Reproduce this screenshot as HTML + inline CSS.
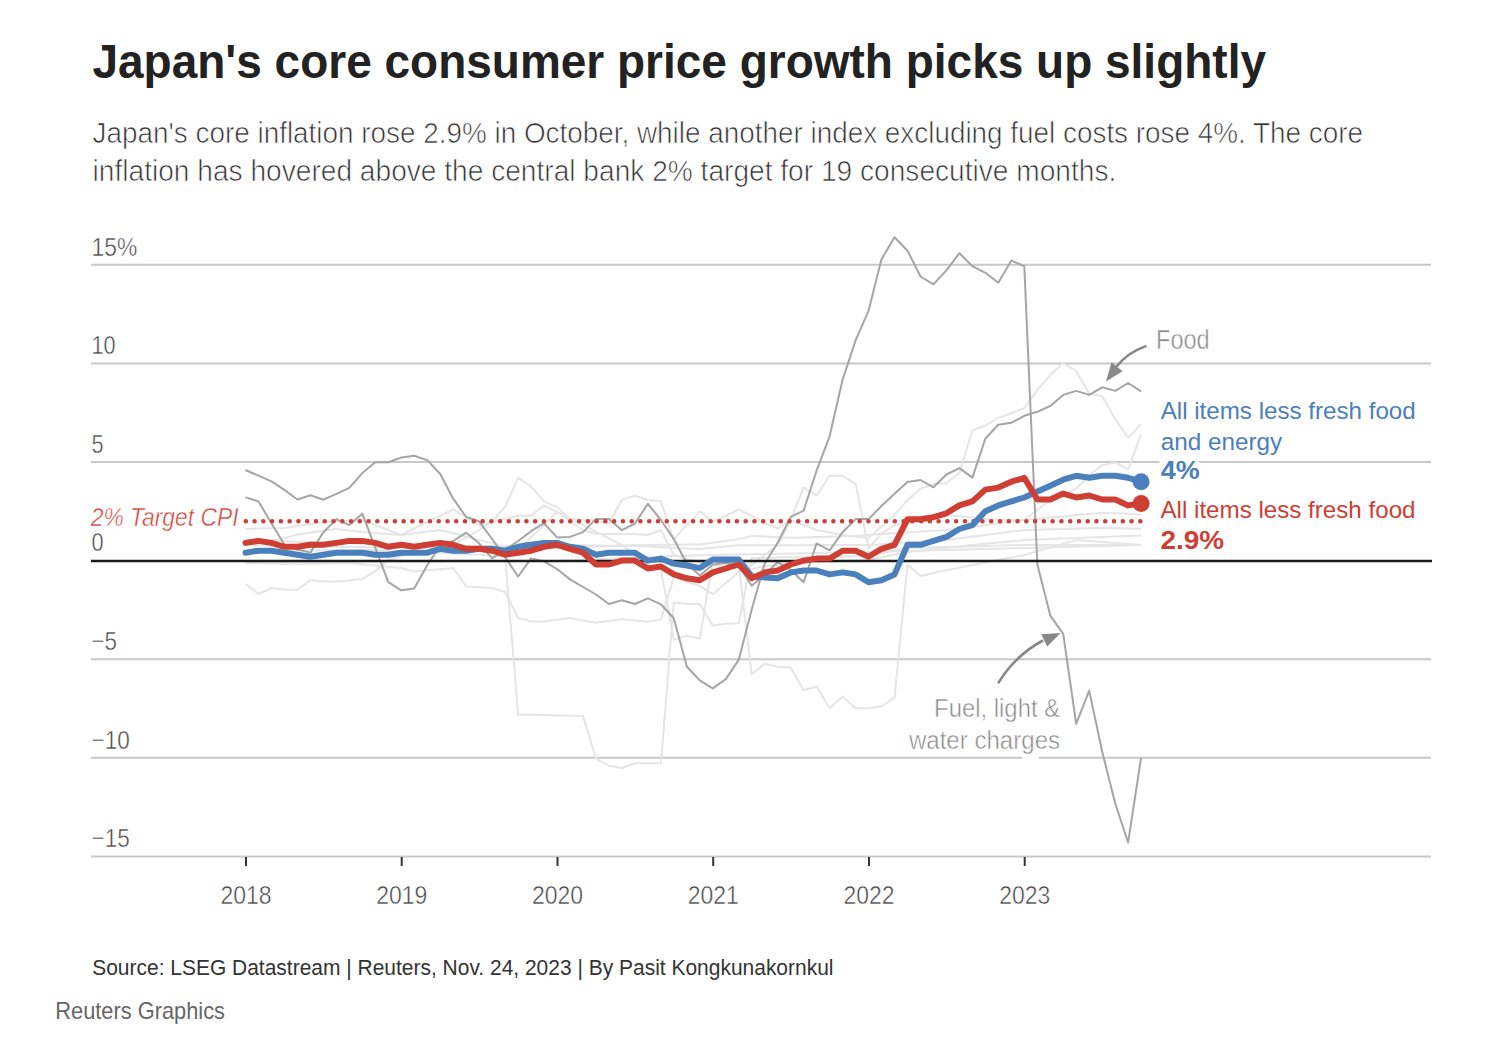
<!DOCTYPE html>
<html><head><meta charset="utf-8"><style>
html,body{margin:0;padding:0;background:#fff;width:1506px;height:1058px;overflow:hidden}
svg{display:block}
text{font-family:"Liberation Sans",sans-serif}
</style></head><body><svg width="1506" height="1058" viewBox="0 0 1506 1058" font-family="Liberation Sans, sans-serif"><text x="92.4" y="77.8" font-size="47.8" fill="#222" font-weight="bold" font-style="normal" text-anchor="start" textLength="1173.6" lengthAdjust="spacingAndGlyphs">Japan's core consumer price growth picks up slightly</text><text x="92.6" y="142.5" font-size="29.8" fill="#333" font-weight="normal" font-style="normal" text-anchor="start" textLength="1270.4" lengthAdjust="spacingAndGlyphs" stroke="#fff" stroke-width="0.7">Japan's core inflation rose 2.9% in October, while another index excluding fuel costs rose 4%. The core</text><text x="92.6" y="181" font-size="29.8" fill="#333" font-weight="normal" font-style="normal" text-anchor="start" textLength="1023.7" lengthAdjust="spacingAndGlyphs" stroke="#fff" stroke-width="0.7">inflation has hovered above the central bank 2% target for 19 consecutive months.</text><line x1="91" x2="1431" y1="264.8" y2="264.8" stroke="#c8c8c8" stroke-width="2"/><line x1="91" x2="1431" y1="363.4" y2="363.4" stroke="#c8c8c8" stroke-width="2"/><line x1="91" x2="1159.5" y1="462.0" y2="462.0" stroke="#c8c8c8" stroke-width="2"/><line x1="1198.8" x2="1431" y1="462.0" y2="462.0" stroke="#c8c8c8" stroke-width="2"/><line x1="91" x2="1431" y1="659.2" y2="659.2" stroke="#c8c8c8" stroke-width="2"/><line x1="91" x2="1022" y1="757.8" y2="757.8" stroke="#c8c8c8" stroke-width="2"/><line x1="1039" x2="1431" y1="757.8" y2="757.8" stroke="#c8c8c8" stroke-width="2"/><line x1="91" x2="1431" y1="856.4" y2="856.4" stroke="#c8c8c8" stroke-width="2"/><path d="M245.5,583.8 L258.5,594.0 L271.5,588.0 L284.4,589.4 L297.4,589.8 L310.4,580.1 L323.4,581.5 L336.4,581.5 L349.3,580.5 L362.3,579.1 L375.3,571.0 L388.3,560.0 L401.3,556.0 L414.2,554.0 L427.2,552.0 L440.2,548.5 L453.2,545.0 L466.2,537.5 L479.1,530.0 L492.1,521.0 L505.1,507.0 L518.1,477.8 L531.1,486.3 L544.0,501.4 L557.0,507.0 L570.0,519.0 L583.0,520.0 L596.0,520.6 L608.9,523.7 L621.9,499.8 L634.9,495.9 L647.9,500.0 L660.9,501.4 L673.8,539.7 L686.8,525.0 L699.8,511.6 L712.8,521.8 L725.8,516.0 L738.7,509.4 L751.7,516.0 L764.7,523.0 L777.7,528.4 L790.7,520.0 L803.6,525.0 L816.6,530.0 L829.6,532.5 L842.6,535.0 L855.6,536.5 L868.5,538.0 L881.5,526.5 L894.5,515.0 L907.5,500.0 L920.5,488.8 L933.4,484.1 L946.4,483.2 L959.4,472.8 L972.4,430.2 L985.4,425.5 L998.3,418.0 L1011.3,413.2 L1024.3,408.1 L1037.3,390.2 L1050.3,375.0 L1063.2,363.0 L1076.2,371.0 L1089.2,393.6 L1102.2,396.2 L1115.2,419.1 L1128.1,437.8 L1141.1,424.2" fill="none" stroke="#e5e5e5" stroke-width="2" stroke-linejoin="round"/><path d="M245.5,551.0 L258.5,550.9 L271.5,550.8 L284.4,550.7 L297.4,550.6 L310.4,550.5 L323.4,550.4 L336.4,550.3 L349.3,550.2 L362.3,550.1 L375.3,550.0 L388.3,550.6 L401.3,551.2 L414.2,551.8 L427.2,552.4 L440.2,553.0 L453.2,553.6 L466.2,554.2 L479.1,554.8 L492.1,555.4 L505.1,556.0 L518.1,714.4 L531.1,714.7 L544.0,715.0 L557.0,715.4 L570.0,715.7 L583.0,716.0 L596.0,758.6 L608.9,765.7 L621.9,768.0 L634.9,763.3 L647.9,763.3 L660.9,763.3 L673.8,602.5 L686.8,604.0 L699.8,604.0 L712.8,625.6 L725.8,623.7 L738.7,623.3 L751.7,558.0 L764.7,557.8 L777.7,557.6 L790.7,557.3 L803.6,557.1 L816.6,556.9 L829.6,556.7 L842.6,556.4 L855.6,556.2 L868.5,556.0 L881.5,553.3 L894.5,550.7 L907.5,548.0 L920.5,547.7 L933.4,547.3 L946.4,547.0 L959.4,546.7 L972.4,546.3 L985.4,546.0 L998.3,545.7 L1011.3,545.3 L1024.3,545.0 L1037.3,545.0 L1050.3,545.0 L1063.2,545.0 L1076.2,545.0 L1089.2,545.0 L1102.2,545.0 L1115.2,545.0 L1128.1,545.0 L1141.1,545.0" fill="none" stroke="#e5e5e5" stroke-width="2" stroke-linejoin="round"/><path d="M245.5,562.9 L258.5,563.2 L271.5,563.5 L284.4,563.7 L297.4,564.0 L310.4,563.8 L323.4,563.5 L336.4,563.2 L349.3,563.0 L362.3,564.2 L375.3,565.5 L388.3,566.8 L401.3,568.0 L414.2,571.5 L427.2,570.3 L440.2,569.2 L453.2,568.0 L466.2,586.4 L479.1,587.2 L492.1,588.0 L505.1,592.0 L518.1,618.0 L531.1,621.5 L544.0,621.5 L557.0,619.8 L570.0,618.0 L583.0,620.4 L596.0,622.7 L608.9,621.0 L621.9,619.2 L634.9,620.5 L647.9,621.8 L660.9,619.5 L673.8,577.0 L686.8,582.0 L699.8,586.0 L712.8,594.2 L725.8,583.0 L738.7,572.3 L751.7,569.1 L764.7,566.0 L777.7,565.0 L790.7,564.0 L803.6,563.0 L816.6,562.0 L829.6,561.5 L842.6,561.0 L855.6,560.5 L868.5,560.0 L881.5,557.3 L894.5,554.7 L907.5,552.0 L920.5,550.6 L933.4,549.2 L946.4,547.8 L959.4,546.4 L972.4,545.0 L985.4,543.8 L998.3,542.5 L1011.3,541.2 L1024.3,540.0 L1037.3,539.5 L1050.3,539.0 L1063.2,538.5 L1076.2,538.0 L1089.2,537.6 L1102.2,537.1 L1115.2,536.6 L1128.1,536.1 L1141.1,535.6" fill="none" stroke="#e5e5e5" stroke-width="2" stroke-linejoin="round"/><path d="M245.5,528.9 L258.5,528.6 L271.5,528.3 L284.4,528.0 L297.4,526.0 L310.4,524.0 L323.4,522.0 L336.4,521.3 L349.3,520.7 L362.3,520.0 L375.3,525.0 L388.3,530.0 L401.3,535.0 L414.2,533.3 L427.2,531.7 L440.2,530.0 L453.2,533.3 L466.2,536.7 L479.1,540.0 L492.1,543.3 L505.1,546.7 L518.1,550.0 L531.1,537.3 L544.0,524.7 L557.0,512.0 L570.0,521.0 L583.0,530.0 L596.0,534.0 L608.9,534.0 L621.9,534.0 L634.9,534.0 L647.9,535.0 L660.9,530.0 L673.8,555.0 L686.8,558.7 L699.8,562.3 L712.8,566.0 L725.8,565.3 L738.7,564.6 L751.7,674.2 L764.7,663.8 L777.7,666.7 L790.7,667.6 L803.6,690.3 L816.6,686.5 L829.6,708.2 L842.6,696.5 L855.6,708.2 L868.5,708.2 L881.5,706.3 L894.5,697.8 L907.5,564.6 L920.5,575.9 L933.4,573.0 L946.4,570.3 L959.4,567.7 L972.4,565.0 L985.4,562.5 L998.3,560.0 L1011.3,557.5 L1024.3,555.0 L1037.3,551.2 L1050.3,547.5 L1063.2,543.8 L1076.2,540.0 L1089.2,541.0 L1102.2,542.0 L1115.2,543.0 L1128.1,544.0 L1141.1,545.0" fill="none" stroke="#e5e5e5" stroke-width="2" stroke-linejoin="round"/><path d="M245.5,545.0 L258.5,542.7 L271.5,540.5 L284.4,538.2 L297.4,534.5 L310.4,532.7 L323.4,530.8 L336.4,529.0 L349.3,530.5 L362.3,532.0 L375.3,533.0 L388.3,534.0 L401.3,535.0 L414.2,528.6 L427.2,522.2 L440.2,515.9 L453.2,509.5 L466.2,517.2 L479.1,525.0 L492.1,521.9 L505.1,518.9 L518.1,515.8 L531.1,515.8 L544.0,505.4 L557.0,511.9 L570.0,518.5 L583.0,525.0 L596.0,531.7 L608.9,538.3 L621.9,545.0 L634.9,555.0 L647.9,565.0 L660.9,570.0 L673.8,639.6 L686.8,635.8 L699.8,638.8 L712.8,560.0 L725.8,561.7 L738.7,563.3 L751.7,565.0 L764.7,555.0 L777.7,545.0 L790.7,520.0 L803.6,487.5 L816.6,495.5 L829.6,475.8 L842.6,475.8 L855.6,483.8 L868.5,548.1 L881.5,533.5 L894.5,525.0 L907.5,522.5 L920.5,520.0 L933.4,517.5 L946.4,515.0 L959.4,516.2 L972.4,517.5 L985.4,518.8 L998.3,520.0 L1011.3,520.0 L1024.3,520.0 L1037.3,510.0 L1050.3,500.0 L1063.2,494.4 L1076.2,488.9 L1089.2,475.3 L1102.2,465.0 L1115.2,462.5 L1128.1,469.3 L1141.1,434.4" fill="none" stroke="#e5e5e5" stroke-width="2" stroke-linejoin="round"/><path d="M245.5,545.0 L258.5,545.2 L271.5,545.5 L284.4,545.8 L297.4,546.0 L310.4,546.2 L323.4,546.5 L336.4,546.8 L349.3,547.0 L362.3,547.2 L375.3,547.5 L388.3,547.8 L401.3,548.0 L414.2,547.8 L427.2,547.5 L440.2,547.2 L453.2,547.0 L466.2,546.8 L479.1,546.5 L492.1,546.2 L505.1,546.0 L518.1,545.8 L531.1,545.5 L544.0,545.2 L557.0,545.0 L570.0,545.2 L583.0,545.3 L596.0,545.5 L608.9,545.7 L621.9,545.8 L634.9,546.0 L647.9,546.6 L660.9,547.2 L673.8,547.8 L686.8,548.4 L699.8,549.0 L712.8,547.7 L725.8,546.5 L738.7,545.2 L751.7,545.2 L764.7,545.2 L777.7,545.2 L790.7,545.2 L803.6,545.2 L816.6,545.1 L829.6,545.1 L842.6,545.1 L855.6,545.0 L868.5,545.0 L881.5,544.2 L894.5,543.3 L907.5,542.5 L920.5,541.7 L933.4,540.8 L946.4,540.0 L959.4,538.3 L972.4,536.7 L985.4,535.0 L998.3,533.3 L1011.3,531.7 L1024.3,530.0 L1037.3,529.7 L1050.3,529.3 L1063.2,529.0 L1076.2,528.7 L1089.2,528.3 L1102.2,528.0 L1115.2,528.3 L1128.1,528.5 L1141.1,528.8" fill="none" stroke="#e5e5e5" stroke-width="2" stroke-linejoin="round"/><path d="M245.5,540.0 L258.5,540.4 L271.5,540.8 L284.4,541.2 L297.4,541.7 L310.4,542.1 L323.4,542.5 L336.4,542.9 L349.3,543.3 L362.3,543.8 L375.3,544.2 L388.3,544.6 L401.3,545.0 L414.2,545.2 L427.2,545.5 L440.2,545.8 L453.2,546.0 L466.2,546.2 L479.1,546.5 L492.1,546.8 L505.1,547.0 L518.1,547.2 L531.1,547.5 L544.0,547.8 L557.0,548.0 L570.0,547.5 L583.0,547.0 L596.0,546.5 L608.9,546.0 L621.9,545.5 L634.9,545.0 L647.9,544.9 L660.9,544.8 L673.8,544.7 L686.8,544.6 L699.8,544.5 L712.8,542.7 L725.8,541.0 L738.7,539.2 L751.7,535.9 L764.7,536.5 L777.7,537.2 L790.7,537.8 L803.6,537.4 L816.6,537.0 L829.6,536.7 L842.6,536.3 L855.6,535.9 L868.5,535.0 L881.5,534.1 L894.5,533.2 L907.5,532.4 L920.5,531.6 L933.4,530.8 L946.4,530.0 L959.4,528.3 L972.4,526.7 L985.4,525.0 L998.3,523.3 L1011.3,521.7 L1024.3,520.0 L1037.3,518.8 L1050.3,517.6 L1063.2,516.4 L1076.2,515.1 L1089.2,513.9 L1102.2,512.7 L1115.2,513.3 L1128.1,513.8 L1141.1,514.4" fill="none" stroke="#e5e5e5" stroke-width="2" stroke-linejoin="round"/><path d="M245.5,562.0 L258.5,562.0 L271.5,561.9 L284.4,561.9 L297.4,561.8 L310.4,561.8 L323.4,561.8 L336.4,561.7 L349.3,561.7 L362.3,561.6 L375.3,561.6 L388.3,561.5 L401.3,561.5 L414.2,561.5 L427.2,561.4 L440.2,561.4 L453.2,561.3 L466.2,561.3 L479.1,561.2 L492.1,561.2 L505.1,561.2 L518.1,561.1 L531.1,561.1 L544.0,561.0 L557.0,561.0 L570.0,560.4 L583.0,559.9 L596.0,559.3 L608.9,558.8 L621.9,558.2 L634.9,557.7 L647.9,557.1 L660.9,556.6 L673.8,556.0 L686.8,555.7 L699.8,555.3 L712.8,555.0 L725.8,554.8 L738.7,554.5 L751.7,554.2 L764.7,554.0 L777.7,553.8 L790.7,553.5 L803.6,553.2 L816.6,553.0 L829.6,552.8 L842.6,552.5 L855.6,552.2 L868.5,552.0 L881.5,551.7 L894.5,551.3 L907.5,551.0 L920.5,550.7 L933.4,550.3 L946.4,550.0 L959.4,549.7 L972.4,549.3 L985.4,549.0 L998.3,548.7 L1011.3,548.3 L1024.3,548.0 L1037.3,547.7 L1050.3,547.3 L1063.2,547.0 L1076.2,546.7 L1089.2,546.3 L1102.2,546.0 L1115.2,545.7 L1128.1,545.3 L1141.1,545.0" fill="none" stroke="#e5e5e5" stroke-width="2" stroke-linejoin="round"/><path d="M245.5,470.0 L258.5,475.7 L271.5,481.4 L284.4,489.9 L297.4,499.5 L310.4,495.2 L323.4,499.7 L336.4,493.8 L349.3,487.8 L362.3,473.1 L375.3,462.3 L388.3,462.3 L401.3,457.5 L414.2,455.8 L427.2,460.1 L440.2,474.0 L453.2,498.7 L466.2,517.0 L479.1,521.3 L492.1,539.0 L505.1,557.0 L518.1,576.5 L531.1,558.4 L544.0,561.4 L557.0,569.0 L570.0,579.4 L583.0,587.0 L596.0,594.5 L608.9,604.0 L621.9,600.2 L634.9,604.0 L647.9,598.4 L660.9,604.3 L673.8,618.2 L686.8,666.5 L699.8,680.4 L712.8,688.4 L725.8,679.1 L738.7,659.9 L751.7,609.4 L764.7,563.6 L777.7,542.8 L790.7,516.9 L803.6,510.6 L816.6,470.7 L829.6,436.3 L842.6,379.7 L855.6,340.4 L868.5,310.9 L881.5,259.3 L894.5,237.2 L907.5,250.7 L920.5,276.5 L933.4,284.4 L946.4,270.4 L959.4,253.2 L972.4,266.2 L985.4,272.8 L998.3,282.7 L1011.3,260.6 L1024.3,266.2 L1037.3,564.2 L1050.3,615.6 L1063.2,633.8 L1076.2,723.9 L1089.2,690.6 L1102.2,751.7 L1115.2,803.2 L1128.1,842.5 L1141.1,757.8" fill="none" stroke="#a5a5a5" stroke-width="2" stroke-linejoin="round"/><path d="M245.5,497.4 L258.5,501.4 L271.5,523.4 L284.4,544.6 L297.4,549.5 L310.4,552.6 L323.4,532.3 L336.4,519.1 L349.3,525.1 L362.3,513.7 L375.3,547.8 L388.3,582.2 L401.3,590.3 L414.2,588.4 L427.2,565.2 L440.2,546.0 L453.2,541.0 L466.2,532.7 L479.1,543.3 L492.1,558.4 L505.1,550.0 L518.1,541.0 L531.1,531.2 L544.0,523.2 L557.0,537.4 L570.0,536.9 L583.0,532.1 L596.0,518.9 L608.9,518.9 L621.9,530.2 L634.9,523.6 L647.9,503.8 L660.9,520.0 L673.8,539.0 L686.8,563.5 L699.8,575.5 L712.8,564.6 L725.8,563.0 L738.7,565.5 L751.7,585.8 L764.7,575.0 L777.7,562.0 L790.7,570.0 L803.6,582.2 L816.6,543.4 L829.6,550.3 L842.6,532.2 L855.6,519.1 L868.5,519.1 L881.5,506.0 L894.5,493.8 L907.5,482.0 L920.5,480.0 L933.4,487.3 L946.4,474.5 L959.4,468.1 L972.4,477.6 L985.4,438.5 L998.3,424.7 L1011.3,422.8 L1024.3,415.8 L1037.3,411.8 L1050.3,406.0 L1063.2,394.9 L1076.2,390.9 L1089.2,394.9 L1102.2,387.3 L1115.2,390.9 L1128.1,383.0 L1141.1,391.3" fill="none" stroke="#a5a5a5" stroke-width="2" stroke-linejoin="round"/><line x1="91" x2="1432" y1="561" y2="561" stroke="#1a1a1a" stroke-width="2.4"/><line x1="245.8" x2="1141" y1="521.3" y2="521.3" stroke="#d03d33" stroke-width="4.6" stroke-dasharray="0 8.77" stroke-linecap="round"/><path d="M245.5,552.7 L258.5,550.7 L271.5,550.7 L284.4,552.7 L297.4,554.7 L310.4,556.7 L323.4,554.7 L336.4,552.7 L349.3,552.7 L362.3,552.7 L375.3,554.7 L388.3,554.7 L401.3,552.7 L414.2,552.7 L427.2,552.7 L440.2,548.8 L453.2,550.7 L466.2,550.7 L479.1,548.8 L492.1,548.8 L505.1,550.7 L518.1,546.8 L531.1,544.8 L544.0,542.9 L557.0,542.9 L570.0,546.8 L583.0,548.8 L596.0,554.7 L608.9,552.7 L621.9,552.7 L634.9,552.7 L647.9,560.6 L660.9,558.6 L673.8,563.6 L686.8,565.5 L699.8,568.1 L712.8,559.6 L725.8,559.6 L738.7,559.6 L751.7,576.4 L764.7,577.4 L777.7,578.3 L790.7,572.4 L803.6,570.5 L816.6,570.5 L829.6,574.4 L842.6,572.4 L855.6,574.4 L868.5,582.3 L881.5,580.3 L894.5,574.4 L907.5,544.8 L920.5,544.8 L933.4,540.9 L946.4,536.9 L959.4,529.0 L972.4,525.1 L985.4,511.3 L998.3,505.4 L1011.3,501.4 L1024.3,497.5 L1037.3,491.6 L1050.3,485.7 L1063.2,479.7 L1076.2,475.8 L1089.2,477.8 L1102.2,475.8 L1115.2,475.8 L1128.1,477.8 L1141.1,481.7" fill="none" stroke="#4a80bb" stroke-width="6" stroke-linejoin="round" stroke-linecap="round"/><path d="M245.5,542.9 L258.5,540.9 L271.5,542.9 L284.4,546.8 L297.4,546.8 L310.4,544.8 L323.4,544.8 L336.4,542.9 L349.3,540.9 L362.3,540.9 L375.3,542.9 L388.3,546.8 L401.3,544.8 L414.2,546.8 L427.2,544.8 L440.2,542.9 L453.2,544.8 L466.2,548.8 L479.1,548.8 L492.1,550.7 L505.1,554.7 L518.1,552.7 L531.1,550.7 L544.0,546.8 L557.0,544.8 L570.0,548.8 L583.0,552.7 L596.0,564.5 L608.9,564.5 L621.9,560.6 L634.9,560.6 L647.9,568.5 L660.9,566.5 L673.8,574.4 L686.8,578.3 L699.8,580.3 L712.8,572.4 L725.8,568.5 L738.7,564.5 L751.7,578.3 L764.7,572.4 L777.7,570.5 L790.7,564.5 L803.6,560.6 L816.6,558.6 L829.6,558.6 L842.6,550.7 L855.6,550.7 L868.5,556.7 L881.5,548.8 L894.5,544.8 L907.5,519.2 L920.5,519.2 L933.4,517.2 L946.4,513.3 L959.4,505.4 L972.4,501.4 L985.4,489.6 L998.3,487.6 L1011.3,481.7 L1024.3,477.8 L1037.3,499.5 L1050.3,499.5 L1063.2,493.6 L1076.2,497.5 L1089.2,495.5 L1102.2,499.5 L1115.2,499.5 L1128.1,505.4 L1141.1,503.4" fill="none" stroke="#cf3e33" stroke-width="6" stroke-linejoin="round" stroke-linecap="round"/><circle cx="1141.1" cy="481.7" r="8.5" fill="#4a80bb"/><circle cx="1141.1" cy="503.4" r="8.5" fill="#cf3e33"/><text x="91.5" y="255.5" font-size="26.2" fill="#444" font-weight="normal" font-style="normal" text-anchor="start" textLength="45.7" lengthAdjust="spacingAndGlyphs" stroke="#fff" stroke-width="0.5">15%</text><text x="91.5" y="354.1" font-size="26.2" fill="#444" font-weight="normal" font-style="normal" text-anchor="start" textLength="24.1" lengthAdjust="spacingAndGlyphs" stroke="#fff" stroke-width="0.5">10</text><text x="91.5" y="452.7" font-size="26.2" fill="#444" font-weight="normal" font-style="normal" text-anchor="start" textLength="12.1" lengthAdjust="spacingAndGlyphs" stroke="#fff" stroke-width="0.5">5</text><text x="91.5" y="551.3" font-size="26.2" fill="#444" font-weight="normal" font-style="normal" text-anchor="start" textLength="12.1" lengthAdjust="spacingAndGlyphs" stroke="#fff" stroke-width="0.5">0</text><text x="91.5" y="649.9" font-size="26.2" fill="#444" font-weight="normal" font-style="normal" text-anchor="start" textLength="25.6" lengthAdjust="spacingAndGlyphs" stroke="#fff" stroke-width="0.5">−5</text><text x="91.5" y="748.5" font-size="26.2" fill="#444" font-weight="normal" font-style="normal" text-anchor="start" textLength="38.3" lengthAdjust="spacingAndGlyphs" stroke="#fff" stroke-width="0.5">−10</text><text x="91.5" y="847.1" font-size="26.2" fill="#444" font-weight="normal" font-style="normal" text-anchor="start" textLength="38.3" lengthAdjust="spacingAndGlyphs" stroke="#fff" stroke-width="0.5">−15</text><line x1="246.0" x2="246.0" y1="857" y2="866" stroke="#333" stroke-width="2"/><text x="246.0" y="903.7" font-size="26.2" fill="#444" font-weight="normal" font-style="normal" text-anchor="middle" textLength="51.1" lengthAdjust="spacingAndGlyphs" stroke="#fff" stroke-width="0.5">2018</text><line x1="401.7" x2="401.7" y1="857" y2="866" stroke="#333" stroke-width="2"/><text x="401.7" y="903.7" font-size="26.2" fill="#444" font-weight="normal" font-style="normal" text-anchor="middle" textLength="51.1" lengthAdjust="spacingAndGlyphs" stroke="#fff" stroke-width="0.5">2019</text><line x1="557.5" x2="557.5" y1="857" y2="866" stroke="#333" stroke-width="2"/><text x="557.5" y="903.7" font-size="26.2" fill="#444" font-weight="normal" font-style="normal" text-anchor="middle" textLength="51.1" lengthAdjust="spacingAndGlyphs" stroke="#fff" stroke-width="0.5">2020</text><line x1="713.2" x2="713.2" y1="857" y2="866" stroke="#333" stroke-width="2"/><text x="713.2" y="903.7" font-size="26.2" fill="#444" font-weight="normal" font-style="normal" text-anchor="middle" textLength="51.1" lengthAdjust="spacingAndGlyphs" stroke="#fff" stroke-width="0.5">2021</text><line x1="869.0" x2="869.0" y1="857" y2="866" stroke="#333" stroke-width="2"/><text x="869.0" y="903.7" font-size="26.2" fill="#444" font-weight="normal" font-style="normal" text-anchor="middle" textLength="51.1" lengthAdjust="spacingAndGlyphs" stroke="#fff" stroke-width="0.5">2022</text><line x1="1024.7" x2="1024.7" y1="857" y2="866" stroke="#333" stroke-width="2"/><text x="1024.7" y="903.7" font-size="26.2" fill="#444" font-weight="normal" font-style="normal" text-anchor="middle" textLength="51.1" lengthAdjust="spacingAndGlyphs" stroke="#fff" stroke-width="0.5">2023</text><text x="90.7" y="525.7" font-size="26.5" fill="#cf3e33" font-weight="normal" font-style="italic" text-anchor="start" textLength="147.9" lengthAdjust="spacingAndGlyphs" stroke="#fff" stroke-width="0.5">2% Target CPI</text><text x="1160.7" y="418.6" font-size="24.3" fill="#4a80bb" font-weight="normal" font-style="normal" text-anchor="start" textLength="255.0" lengthAdjust="spacingAndGlyphs">All items less fresh food</text><text x="1160.7" y="449.6" font-size="24.3" fill="#4a80bb" font-weight="normal" font-style="normal" text-anchor="start" textLength="121.5" lengthAdjust="spacingAndGlyphs">and energy</text><text x="1160.7" y="478.6" font-size="26.2" fill="#4a80bb" font-weight="bold" font-style="normal" text-anchor="start" textLength="38.9" lengthAdjust="spacingAndGlyphs" stroke="#fff" stroke-width="4" paint-order="stroke" stroke-linejoin="round">4%</text><text x="1160.5" y="518.0" font-size="24.3" fill="#cf3e33" font-weight="normal" font-style="normal" text-anchor="start" textLength="255.0" lengthAdjust="spacingAndGlyphs">All items less fresh food</text><text x="1160.5" y="549.0" font-size="25.8" fill="#cf3e33" font-weight="bold" font-style="normal" text-anchor="start" textLength="63.7" lengthAdjust="spacingAndGlyphs">2.9%</text><text x="1156" y="348.9" font-size="26.9" fill="#8a8a8a" font-weight="normal" font-style="normal" text-anchor="start" textLength="53.7" lengthAdjust="spacingAndGlyphs" stroke="#fff" stroke-width="0.5">Food</text><text x="934.1" y="716.6" font-size="25.7" fill="#8a8a8a" font-weight="normal" font-style="normal" text-anchor="start" textLength="126.0" lengthAdjust="spacingAndGlyphs" stroke="#fff" stroke-width="0.5">Fuel, light &amp;</text><text x="908.9" y="749.1" font-size="25.7" fill="#8a8a8a" font-weight="normal" font-style="normal" text-anchor="start" textLength="151.2" lengthAdjust="spacingAndGlyphs" stroke="#fff" stroke-width="0.5">water charges</text><path d="M1146.4,345.9 C1135,350 1124,357 1116,367" fill="none" stroke="#888" stroke-width="2.6"/><path d="M1106,381.5 L1111.5,362.3 L1122.6,371.2 Z" fill="#888"/><path d="M998.1,683.3 C1010,664 1025,650 1043,640.5" fill="none" stroke="#888" stroke-width="2.6"/><path d="M1060.6,633 L1041.2,634.2 L1047.2,646.4 Z" fill="#888"/><text x="92.2" y="975.2" font-size="21.5" fill="#333" font-weight="normal" font-style="normal" text-anchor="start" textLength="741.3" lengthAdjust="spacingAndGlyphs">Source: LSEG Datastream | Reuters, Nov. 24, 2023 | By Pasit Kongkunakornkul</text><text x="55.3" y="1019" font-size="23.2" fill="#666" font-weight="normal" font-style="normal" text-anchor="start" textLength="169.7" lengthAdjust="spacingAndGlyphs">Reuters Graphics</text></svg></body></html>
